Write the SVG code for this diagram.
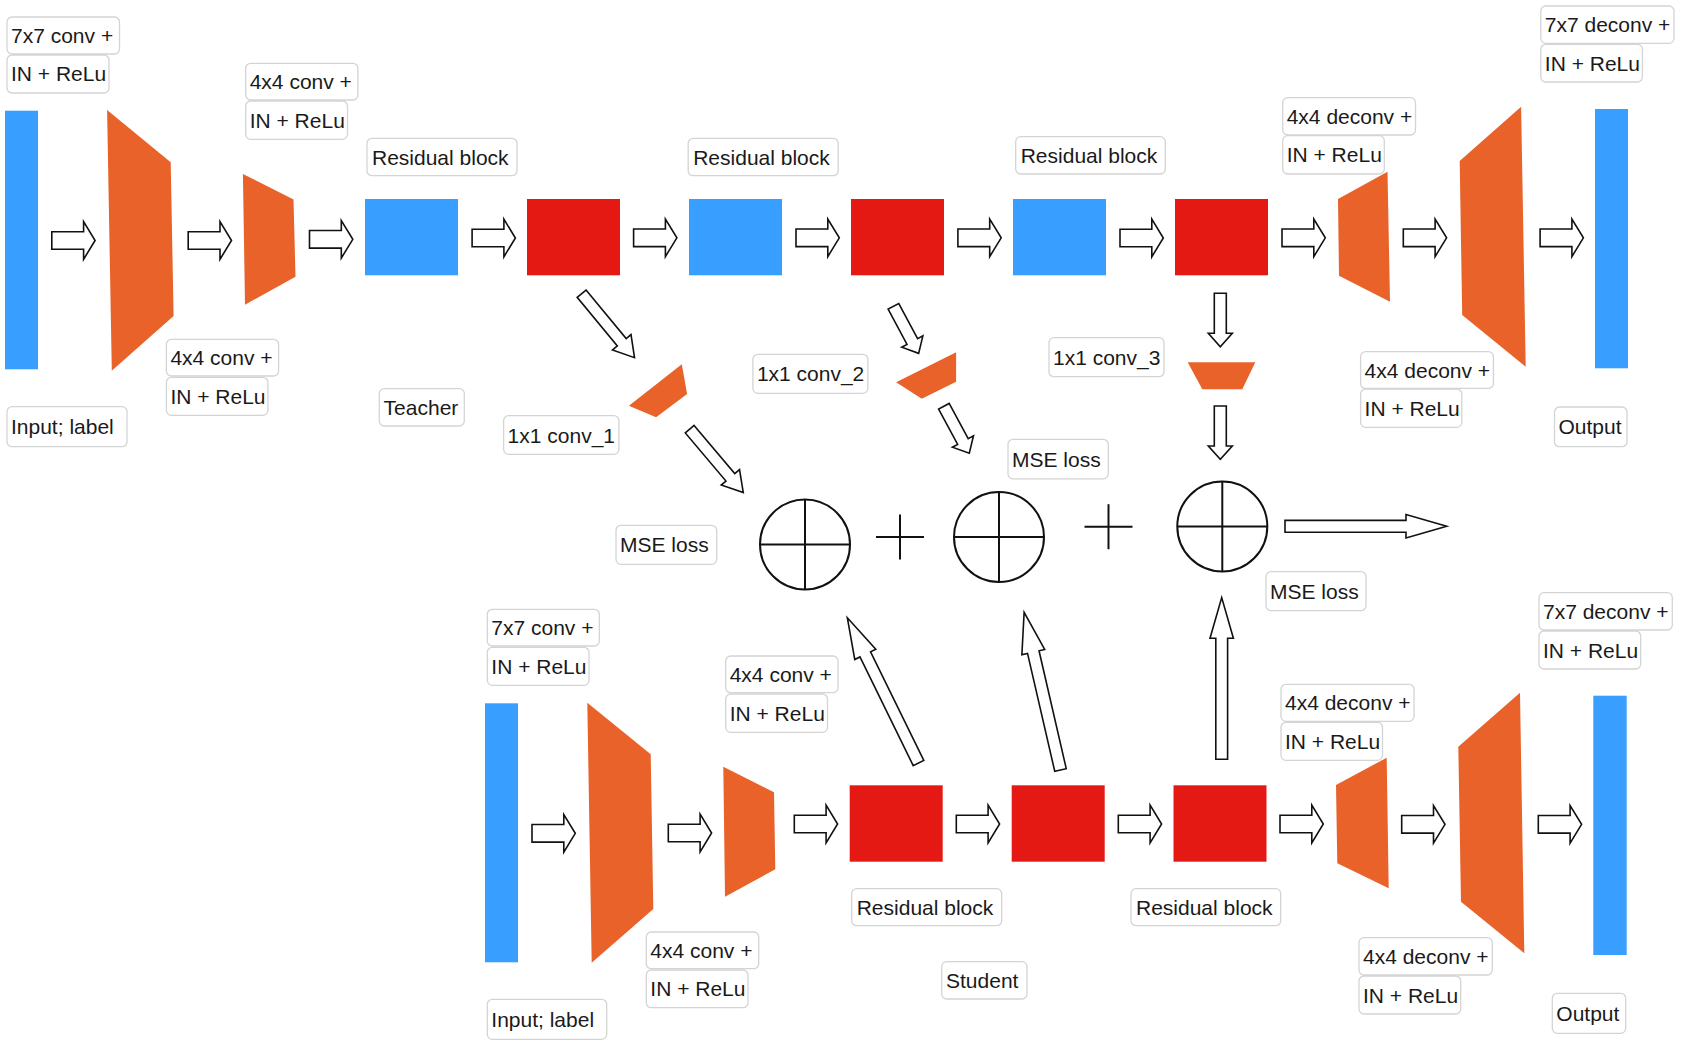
<svg xmlns="http://www.w3.org/2000/svg" xmlns:xlink="http://www.w3.org/1999/xlink" width="1683" height="1045" viewBox="0 0 1683 1045">
<style>
.lb rect{fill:#fff;stroke:#d4d4d4;stroke-width:1.3}
.lb text{font-family:"Liberation Sans",Arial,sans-serif;font-size:21px;fill:#1a1a1a;text-anchor:start}
.blue{fill:#389EFF}
.red{fill:#E51914}
.org{fill:#E8622A}
.ar{fill:#fff;stroke:#111;stroke-width:1.6;stroke-linejoin:miter}
.sum circle{fill:#fff;stroke:#111;stroke-width:2}
.sum line,.plus line{stroke:#111;stroke-width:2}
</style>
<defs>
<path id="ha" d="M0,-8.8H31.8V-18.8L43.3,0L31.8,18.8V8.8H0Z"/>
<path id="ma" d="M0,-5.75H63V-12L83,0L63,12V5.75H0Z"/>
<path id="sa" d="M0,-6H40V-12L53.4,0L40,12V6H0Z"/>
<path id="la" d="M0,-5.9H121V-11.7L161.7,0L121,11.7V5.9H0Z"/>
</defs>
<rect width="1683" height="1045" fill="#fff"/>

<!-- Teacher nodes -->
<g id="t-input"><rect class="blue" x="5" y="110.7" width="33" height="258.6"/></g>
<g id="t-conv7"><polygon class="org" points="107.1,110 170.7,162.3 173.6,316 111.8,370.7"/></g>
<g id="t-conv4"><polygon class="org" points="242.9,174 293.5,199.5 295.5,276.7 245,304.7"/></g>
<g id="t-res1a"><rect class="blue" x="365" y="199" width="93" height="76.3"/></g>
<g id="t-res1b"><rect class="red" x="527" y="199" width="93" height="76.3"/></g>
<g id="t-res2a"><rect class="blue" x="689" y="199" width="93" height="76.3"/></g>
<g id="t-res2b"><rect class="red" x="851" y="199" width="93" height="76.3"/></g>
<g id="t-res3a"><rect class="blue" x="1013" y="199" width="93" height="76.3"/></g>
<g id="t-res3b"><rect class="red" x="1175" y="199" width="93" height="76.3"/></g>
<g id="t-deconv4"><polygon class="org" points="1338,199 1387.5,171.7 1390,301.7 1339,275.7"/></g>
<g id="t-deconv7"><polygon class="org" points="1459.7,161 1521.1,106.7 1525.7,366.7 1462.2,315"/></g>
<g id="t-output"><rect class="blue" x="1595" y="109" width="33" height="259.3"/></g>

<!-- 1x1 convs -->
<g id="conv1"><polygon class="org" points="628.9,405.7 681.8,364.3 687.1,394 656.1,417.3"/></g>
<g id="conv2"><polygon class="org" points="896.1,382.3 956.1,352.3 956.1,381.7 921.8,398.7"/></g>
<g id="conv3"><polygon class="org" points="1187.7,362.3 1255.3,362.3 1242.3,389.3 1202.3,389.3"/></g>

<!-- sums -->
<g id="sum1" class="sum"><circle cx="805" cy="544.5" r="45"/><line x1="760" y1="544.5" x2="850" y2="544.5"/><line x1="805" y1="499.5" x2="805" y2="589.5"/></g>
<g id="plus1" class="plus"><line x1="876" y1="537" x2="924" y2="537"/><line x1="900" y1="514.5" x2="900" y2="559.5"/></g>
<g id="sum2" class="sum"><circle cx="999" cy="537" r="45"/><line x1="954" y1="537" x2="1044" y2="537"/><line x1="999" y1="492" x2="999" y2="582"/></g>
<g id="plus2" class="plus"><line x1="1084.5" y1="526.7" x2="1132.5" y2="526.7"/><line x1="1108.5" y1="504.2" x2="1108.5" y2="549.2"/></g>
<g id="sum3" class="sum"><circle cx="1222.3" cy="526.5" r="45"/><line x1="1177.3" y1="526.5" x2="1267.3" y2="526.5"/><line x1="1222.3" y1="481.5" x2="1222.3" y2="571.5"/></g>

<!-- Student nodes -->
<g id="s-input"><rect class="blue" x="485" y="703.3" width="33" height="259"/></g>
<g id="s-conv7"><polygon class="org" points="587.3,702.7 650.7,754.3 653.3,909 591.7,962.7"/></g>
<g id="s-conv4"><polygon class="org" points="723.3,766.7 774,792.3 775.3,869.3 725,896.7"/></g>
<g id="s-res1"><rect class="red" x="849.7" y="785.3" width="93" height="76.4"/></g>
<g id="s-res2"><rect class="red" x="1011.7" y="785.3" width="93" height="76.4"/></g>
<g id="s-res3"><rect class="red" x="1173.5" y="785.3" width="93" height="76.4"/></g>
<g id="s-deconv4"><polygon class="org" points="1336,785 1386.7,757.7 1388.7,888.3 1337.3,863.3"/></g>
<g id="s-deconv7"><polygon class="org" points="1458.3,746.7 1520,692.7 1524.3,953.3 1461,901.7"/></g>
<g id="s-output"><rect class="blue" x="1593.3" y="695.7" width="33.4" height="259.3"/></g>

<!-- connectors -->
<g id="connectors" class="ar">
<use href="#ha" x="51.8" y="240.5"/>
<use href="#ha" x="188.2" y="240.5"/>
<use href="#ha" x="309.5" y="239.3"/>
<use href="#ha" x="472.1" y="238"/>
<use href="#ha" x="633.6" y="237.8"/>
<use href="#ha" x="796" y="237.8"/>
<use href="#ha" x="957.9" y="237.8"/>
<use href="#ha" x="1120" y="238"/>
<use href="#ha" x="1282" y="237.8"/>
<use href="#ha" x="1403.3" y="237.8"/>
<use href="#ha" x="1540.1" y="237.8"/>
<use href="#ha" x="532" y="833.3"/>
<use href="#ha" x="668.3" y="833"/>
<use href="#ha" x="794.3" y="824"/>
<use href="#ha" x="956.3" y="824"/>
<use href="#ha" x="1118.3" y="824"/>
<use href="#ha" x="1280" y="824"/>
<use href="#ha" x="1401.7" y="824.3"/>
<use href="#ha" x="1538.3" y="824.3"/>
<use href="#ma" transform="translate(581.6,293.7) rotate(50.4)"/>
<use href="#ma" transform="translate(689.7,429.2) rotate(49.8)"/>
<use href="#sa" transform="translate(893.4,306.3) rotate(61.8)"/>
<use href="#sa" transform="translate(943.9,406.3) rotate(61.6)"/>
<use href="#sa" transform="translate(1220.3,293.3) rotate(90)"/>
<use href="#sa" transform="translate(1220.3,406) rotate(90)"/>
<use href="#la" transform="translate(918.5,763) rotate(-116.1)"/>
<use href="#la" transform="translate(1060.5,770) rotate(-103)"/>
<use href="#la" transform="translate(1221.7,759.3) rotate(-90)"/>
<use href="#la" transform="translate(1285,526.3)"/>
</g>

<!-- labels -->
<g id="labels">
<g id="lb1" class="lb"><rect x="7" y="17" width="112.5" height="37" rx="5"/><text x="11" y="43">7x7 conv +</text></g>
<g id="lb2" class="lb"><rect x="7" y="55" width="102" height="38" rx="5"/><text x="11" y="81">IN + ReLu</text></g>
<g id="lb3" class="lb"><rect x="245.7" y="63.3" width="112.2" height="36.7" rx="5"/><text x="249.7" y="89.2">4x4 conv +</text></g>
<g id="lb4" class="lb"><rect x="245.7" y="101" width="101.8" height="38.3" rx="5"/><text x="249.7" y="127.7">IN + ReLu</text></g>
<g id="lb5" class="lb"><rect x="367" y="138.3" width="150" height="37.4" rx="5"/><text x="372" y="164.5">Residual block</text></g>
<g id="lb6" class="lb"><rect x="688.2" y="138.3" width="150" height="37.4" rx="5"/><text x="693.2" y="164.5">Residual block</text></g>
<g id="lb7" class="lb"><rect x="1015.7" y="136.7" width="149.6" height="37.3" rx="5"/><text x="1020.7" y="162.9">Residual block</text></g>
<g id="lb8" class="lb"><rect x="166.4" y="339.3" width="112.2" height="36.7" rx="5"/><text x="170.4" y="365.2">4x4 conv +</text></g>
<g id="lb9" class="lb"><rect x="166.4" y="377.3" width="101.5" height="38" rx="5"/><text x="170.4" y="403.8">IN + ReLu</text></g>
<g id="lb10" class="lb"><rect x="379.3" y="388.7" width="85" height="37.3" rx="5"/><text x="383.6" y="414.9">Teacher</text></g>
<g id="lb11" class="lb"><rect x="7" y="406.7" width="120" height="40" rx="5"/><text x="11" y="434.2">Input; label</text></g>
<g id="lb12" class="lb"><rect x="503.6" y="415.7" width="115.3" height="38.6" rx="5"/><text x="507.6" y="442.5">1x1 conv_1</text></g>
<g id="lb13" class="lb"><rect x="752.9" y="354.3" width="115" height="39" rx="5"/><text x="756.9" y="381.3">1x1 conv_2</text></g>
<g id="lb14" class="lb"><rect x="1049" y="337.7" width="115" height="39" rx="5"/><text x="1053" y="364.7">1x1 conv_3</text></g>
<g id="lb15" class="lb"><rect x="1008" y="439.3" width="100.3" height="39.5" rx="5"/><text x="1012" y="466.6">MSE loss</text></g>
<g id="lb16" class="lb"><rect x="616" y="525.3" width="100.7" height="39" rx="5"/><text x="620" y="552.3">MSE loss</text></g>
<g id="lb17" class="lb"><rect x="1266" y="571.7" width="100" height="39" rx="5"/><text x="1270" y="598.7">MSE loss</text></g>
<g id="lb18" class="lb"><rect x="1282.7" y="97.7" width="132.8" height="37.3" rx="5"/><text x="1286.7" y="123.9">4x4 deconv +</text></g>
<g id="lb19" class="lb"><rect x="1282.7" y="135.7" width="101.6" height="38.3" rx="5"/><text x="1286.7" y="162.4">IN + ReLu</text></g>
<g id="lb20" class="lb"><rect x="1540.8" y="6" width="133.2" height="37.3" rx="5"/><text x="1544.8" y="32.2">7x7 deconv +</text></g>
<g id="lb21" class="lb"><rect x="1540.8" y="44.3" width="101.6" height="37.7" rx="5"/><text x="1544.8" y="70.7">IN + ReLu</text></g>
<g id="lb22" class="lb"><rect x="1360.6" y="351.7" width="132.8" height="36.7" rx="5"/><text x="1364.6" y="377.6">4x4 deconv +</text></g>
<g id="lb23" class="lb"><rect x="1360.6" y="389" width="101.2" height="38.3" rx="5"/><text x="1364.6" y="415.7">IN + ReLu</text></g>
<g id="lb24" class="lb"><rect x="1554.5" y="407" width="72.5" height="39.7" rx="5"/><text x="1558.5" y="434.4">Output</text></g>
<g id="lb25" class="lb"><rect x="487.3" y="609.3" width="112" height="36.7" rx="5"/><text x="491.3" y="635.2">7x7 conv +</text></g>
<g id="lb26" class="lb"><rect x="487.3" y="647.3" width="101.7" height="38" rx="5"/><text x="491.3" y="673.8">IN + ReLu</text></g>
<g id="lb27" class="lb"><rect x="725.7" y="656" width="112.3" height="36.7" rx="5"/><text x="729.7" y="681.9">4x4 conv +</text></g>
<g id="lb28" class="lb"><rect x="725.7" y="694" width="101.8" height="38.3" rx="5"/><text x="729.7" y="720.7">IN + ReLu</text></g>
<g id="lb29" class="lb"><rect x="646.3" y="932" width="112.4" height="36.7" rx="5"/><text x="650.3" y="957.9">4x4 conv +</text></g>
<g id="lb30" class="lb"><rect x="646.3" y="970" width="101.7" height="37.7" rx="5"/><text x="650.3" y="996.4">IN + ReLu</text></g>
<g id="lb31" class="lb"><rect x="487.3" y="999.3" width="119.4" height="40" rx="5"/><text x="491.3" y="1026.8">Input; label</text></g>
<g id="lb32" class="lb"><rect x="851.7" y="888.7" width="150" height="37" rx="5"/><text x="856.7" y="914.7">Residual block</text></g>
<g id="lb33" class="lb"><rect x="1131" y="888.7" width="149.7" height="37" rx="5"/><text x="1136" y="914.7">Residual block</text></g>
<g id="lb34" class="lb"><rect x="941.7" y="961.7" width="85.3" height="37.3" rx="5"/><text x="946" y="987.9">Student</text></g>
<g id="lb35" class="lb"><rect x="1281" y="684.3" width="133" height="37" rx="5"/><text x="1285" y="710.3">4x4 deconv +</text></g>
<g id="lb36" class="lb"><rect x="1281" y="722.3" width="101.5" height="38" rx="5"/><text x="1285" y="748.8">IN + ReLu</text></g>
<g id="lb37" class="lb"><rect x="1359" y="937.7" width="133.3" height="37.3" rx="5"/><text x="1363" y="963.9">4x4 deconv +</text></g>
<g id="lb38" class="lb"><rect x="1359" y="976" width="101.7" height="38" rx="5"/><text x="1363" y="1002.5">IN + ReLu</text></g>
<g id="lb39" class="lb"><rect x="1539" y="592.7" width="133.3" height="37.3" rx="5"/><text x="1543" y="618.9">7x7 deconv +</text></g>
<g id="lb40" class="lb"><rect x="1539" y="631" width="101.7" height="38" rx="5"/><text x="1543" y="657.5">IN + ReLu</text></g>
<g id="lb41" class="lb"><rect x="1552.3" y="993.3" width="73.4" height="40" rx="5"/><text x="1556.3" y="1020.8">Output</text></g>
</g>
</svg>
